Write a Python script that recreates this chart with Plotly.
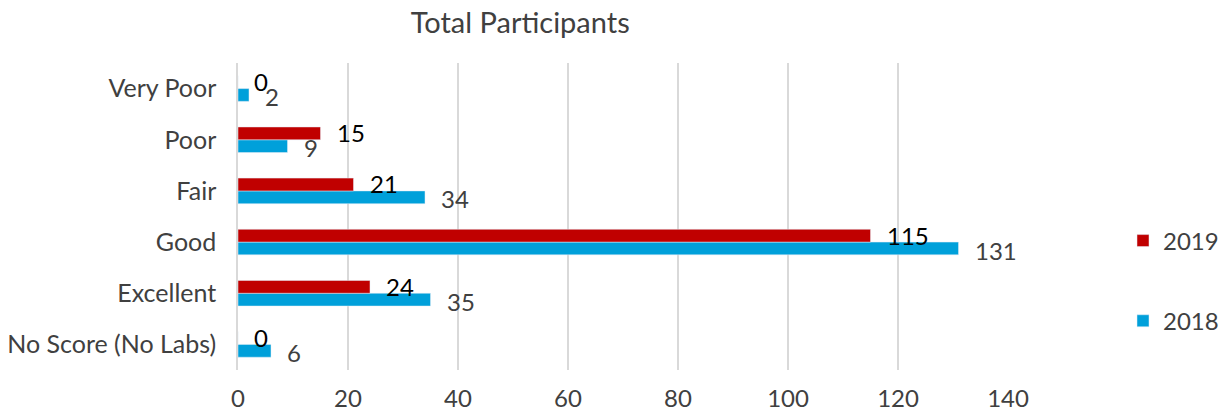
import plotly.graph_objects as go

# Categories listed bottom-to-top as they appear on the axis
categories = ["No Score (No Labs)", "Excellent", "Good", "Fair", "Poor", "Very Poor"]
values_2018 = [6, 35, 131, 34, 9, 2]
values_2019 = [0, 24, 115, 21, 15, 0]
x_ticks = [0, 20, 40, 60, 80, 100, 120, 140]

RED = "#C00000"
BLUE = "#00A0DA"
TEXT = "#404040"
FONT = "Lato"

fig = go.Figure()
fig.add_trace(go.Bar(
    y=categories, x=values_2018, orientation="h", name="2018",
    marker=dict(color=BLUE), legendgroup="a", legendrank=2,
))
fig.add_trace(go.Bar(
    y=categories, x=values_2019, orientation="h", name="2019",
    marker=dict(color=RED), legendgroup="b", legendrank=1,
))

# Data labels just beyond each bar end
annotations = []
for cat, v in zip(categories, values_2018):
    annotations.append(dict(
        x=v, y=cat, xref="x", yref="y", text=str(v), showarrow=False,
        xanchor="left", yanchor="middle", xshift=14, yshift=-8,
        font=dict(family=FONT, size=24, color=TEXT),
    ))
for cat, v in zip(categories, values_2019):
    annotations.append(dict(
        x=v, y=cat, xref="x", yref="y", text=str(v), showarrow=False,
        xanchor="left", yanchor="middle", xshift=14, yshift=7,
        font=dict(family=FONT, size=24, color="#000000"),
    ))

fig.update_layout(
    width=1224, height=418,
    margin=dict(l=238, r=0, t=63, b=48),
    paper_bgcolor="white", plot_bgcolor="white",
    barmode="group", bargap=0.5, bargroupgap=0,
    font=dict(family=FONT, size=24, color=TEXT),
    title=dict(text="Total Participants", x=0.425, xanchor="center",
               y=0.945, yanchor="middle",
               font=dict(family=FONT, size=29, color=TEXT)),
    xaxis=dict(domain=[0, 770 / 986], range=[0, 140], tickvals=x_ticks,
               showgrid=True, gridcolor="#D9D9D9", gridwidth=1.5,
               zeroline=False, showline=False, ticks="", automargin=False,
               ticklabelstandoff=12,
               tickfont=dict(family=FONT, size=24, color=TEXT)),
    yaxis=dict(categoryorder="array", categoryarray=categories,
               showline=True, linecolor="#D9D9D9", linewidth=1.5,
               ticks="", ticklabelstandoff=15, showgrid=False,
               automargin=False,
               tickfont=dict(family=FONT, size=25, color=TEXT)),
    legend=dict(x=1, y=0.29, xanchor="right", yanchor="middle",
                traceorder="grouped", tracegroupgap=46,
                font=dict(family=FONT, size=24, color=TEXT),
                itemwidth=30),
    annotations=annotations,
)

fig.write_html("out.html")
